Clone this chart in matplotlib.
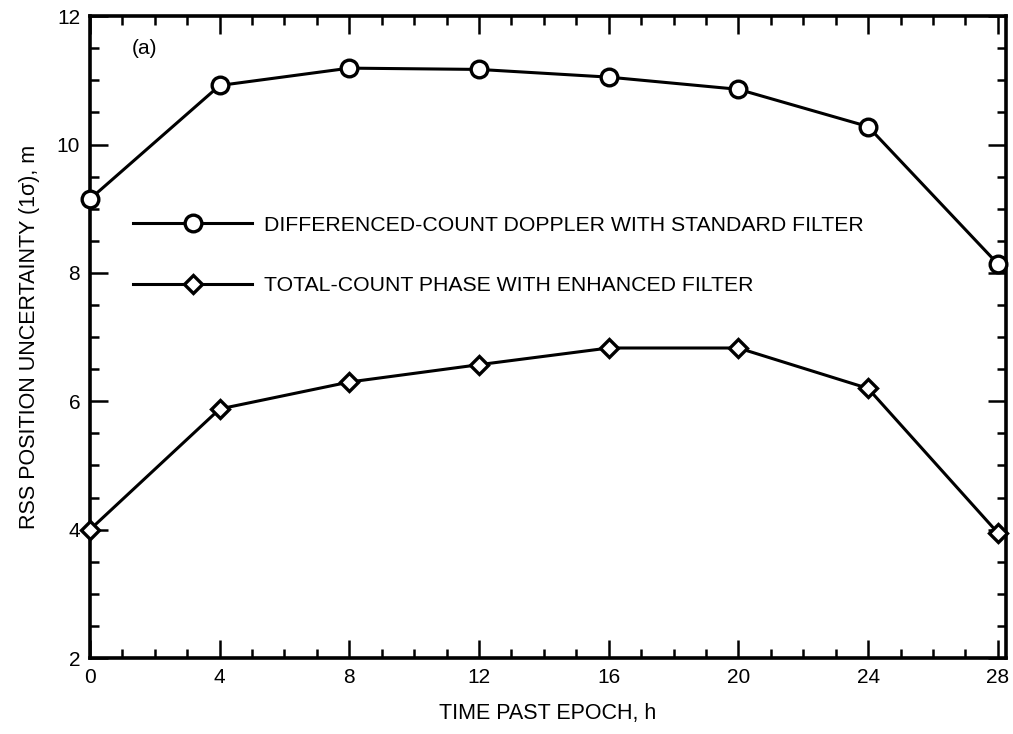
import numpy as np
import matplotlib
matplotlib.use("Agg")
import matplotlib.pyplot as plt
from matplotlib.ticker import MultipleLocator

plt.rcParams['font.family'] = ['Liberation Sans', 'DejaVu Sans']

hours = [0, 4, 8, 12, 16, 20, 24, 28]
doppler = [9.15, 10.92, 11.19, 11.17, 11.05, 10.86, 10.28, 8.14]
phase = [4.0, 5.88, 6.3, 6.57, 6.83, 6.83, 6.2, 3.95]

label_doppler = "DIFFERENCED-COUNT DOPPLER WITH STANDARD FILTER"
label_phase = "TOTAL-COUNT PHASE WITH ENHANCED FILTER"

fig = plt.figure(figsize=(10.13, 7.34), dpi=100)
ax = fig.add_axes([0.0888, 0.1035, 0.9042, 0.8745])

ax.plot(hours, doppler, color='black', lw=2.2, marker='o', ms=12,
        mfc='white', mec='black', mew=2.4, label=label_doppler, clip_on=False, zorder=3)
ax.plot(hours, phase, color='black', lw=2.2, marker='D', ms=9.5,
        mfc='white', mec='black', mew=2.4, label=label_phase, clip_on=False, zorder=3)

ax.set_xlim(0, 28.25)
ax.set_ylim(2, 12)
ax.xaxis.set_major_locator(MultipleLocator(4))
ax.xaxis.set_minor_locator(MultipleLocator(1))
ax.yaxis.set_major_locator(MultipleLocator(2))
ax.yaxis.set_minor_locator(MultipleLocator(0.5))
ax.tick_params(which='both', direction='in', top=True, right=True, width=1.8,
               labelsize=15, colors='black')
ax.tick_params(which='major', length=13, pad=7)
ax.tick_params(which='minor', length=6.5)
for s in ax.spines.values():
    s.set_linewidth(2.6)

ax.set_xlabel("TIME PAST EPOCH, h", fontsize=15.5, labelpad=12)
ax.set_ylabel("RSS POSITION UNCERTAINTY (1σ), m", fontsize=15.5, labelpad=12)

ax.text(1.3, 11.5, "(a)", fontsize=15, ha='left', va='center')

ax.legend(loc='upper left', bbox_to_anchor=(0.047, 0.689), frameon=False,
          numpoints=1, handlelength=5.6, handletextpad=0.55, labelspacing=1.95,
          borderpad=0, borderaxespad=0, fontsize=15.3)

fig.savefig("out.png", dpi=100)
